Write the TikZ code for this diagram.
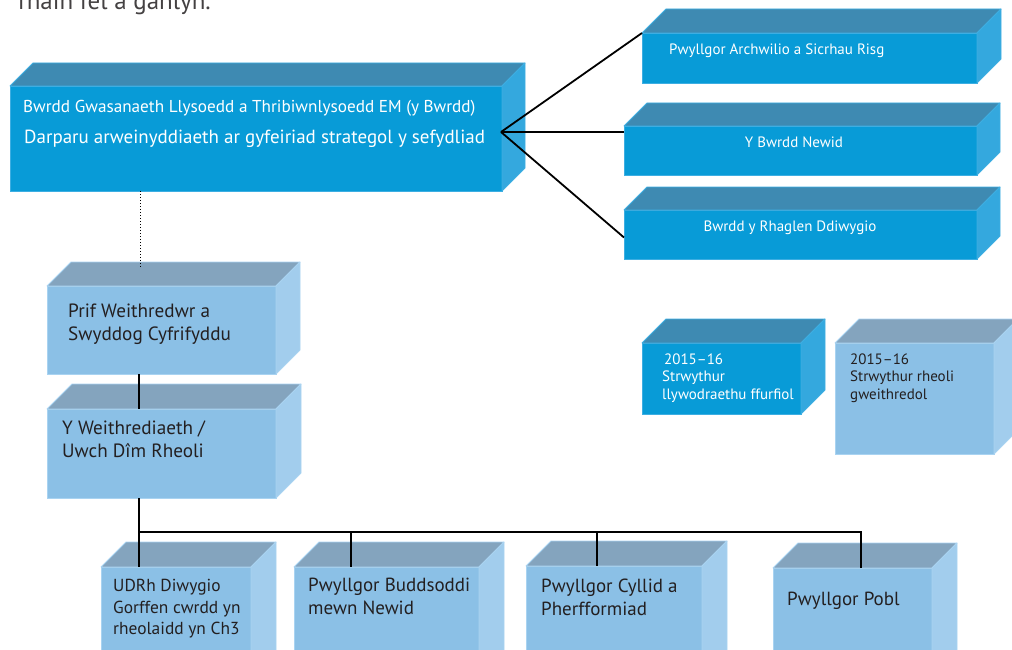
\documentclass[tikz,border=0pt]{standalone}
\usepackage{fontspec}
\setmainfont{PT Sans}
\definecolor{dkfront}{HTML}{089BD7}
\definecolor{dktop}{HTML}{3E8AB2}
\definecolor{dkside}{HTML}{34A8DE}
\definecolor{dkedge}{HTML}{3DAEE2}
\definecolor{ltfront}{HTML}{8BC0E6}
\definecolor{lttop}{HTML}{84A4BE}
\definecolor{ltside}{HTML}{A2CDED}
\definecolor{ltedge}{HTML}{A9D3F1}
\definecolor{ink}{HTML}{231F20}
\newcommand\cubebox[7]{%
  \node[#7front, anchor=north west, inner sep=0pt, outer sep=0pt,
        minimum width={(#4-#2)*1pt}, minimum height={(#5-#3)*1pt}] (#1) at (#2,#3) {};
  \filldraw[#7top] (#1.north west) -- ++(#6,-#6) -- ([shift={(#6,-#6)}]#1.north east) -- (#1.north east) -- cycle;
  \filldraw[#7side] (#1.north east) -- ++(#6,-#6) -- ([shift={(#6,-#6)}]#1.south east) -- (#1.south east) -- cycle;
}
\tikzset{
  dkfront/.style={fill=dkfront, draw=dkedge, line width=0.8pt},
  dktop/.style={fill=dktop, draw=dkedge, line width=0.8pt, line join=round},
  dkside/.style={fill=dkside, draw=dkedge, line width=0.8pt, line join=round},
  ltfront/.style={fill=ltfront, draw=ltedge, line width=0.8pt},
  lttop/.style={fill=lttop, draw=ltedge, line width=0.8pt, line join=round},
  ltside/.style={fill=ltside, draw=ltedge, line width=0.8pt, line join=round},
  wtxt/.style={text=white, inner sep=0pt, anchor=base west},
  btxt/.style={text=ink, inner sep=0pt, anchor=base west},
  conn/.style={draw=black, line width=1.8pt},
}
\begin{document}
\begin{tikzpicture}[x=1pt,y=-1pt]
\useasboundingbox (0,0) rectangle (1012,650);
% title fragment
\node[btxt, anchor=base east, font=\fontsize{25}{28}\selectfont, text=ink!85] (title) at (211,10) {rhain fel a ganlyn.};
% boxes
\cubebox{main}{10}{86}{502}{191}{23}{dk}
\cubebox{r1}{642}{33}{977}{83}{24}{dk}
\cubebox{r2}{624}{126}{977}{175}{23}{dk}
\cubebox{r3}{624}{210}{977}{259}{23}{dk}
\cubebox{prif}{47}{286}{276}{374}{24}{lt}
\cubebox{weith}{47}{409}{276}{498}{25}{lt}
\cubebox{m1}{642}{343}{801}{414}{24}{dk}
\cubebox{m2}{835}{343}{994}{454}{24}{lt}
\cubebox{b1}{101}{567}{251}{680}{25}{lt}
\cubebox{b2}{294}{567}{479}{680}{25}{lt}
\cubebox{b3}{526}{566}{702}{680}{25}{lt}
\cubebox{b4}{773}{568}{932}{680}{25}{lt}
% texts
\node[wtxt, font=\fontsize{17.2}{20}\selectfont] (tm1) at (23,113) {Bwrdd Gwasanaeth Llysoedd a Thribiwnlysoedd EM (y Bwrdd)};
\node[wtxt, font=\fontsize{19}{22}\selectfont] (tm2) at (24,143) {Darparu arweinyddiaeth ar gyfeiriad strategol y sefydliad};
\node[wtxt, font=\fontsize{15}{18}\selectfont] (tr1) at (669,55) {Pwyllgor Archwilio a Sicrhau Risg};
\node[wtxt, font=\fontsize{15}{18}\selectfont, anchor=base] (tr2) at (794,147) {Y Bwrdd Newid};
\node[wtxt, font=\fontsize{15}{18}\selectfont, anchor=base] (tr3) at (790,231) {Bwrdd y Rhaglen Ddiwygio};
\node[btxt, font=\fontsize{19.2}{22}\selectfont] (tp1) at (68,317) {Prif Weithredwr a};
\node[btxt, font=\fontsize{19.2}{22}\selectfont] (tp2) at (68,340) {Swyddog Cyfrifyddu};
\node[btxt, font=\fontsize{19.2}{22}\selectfont] (tw1) at (62,434) {Y Weithrediaeth /};
\node[btxt, font=\fontsize{19.2}{22}\selectfont] (tw2) at (62,457) {Uwch Dîm Rheoli};
\node[wtxt, font=\fontsize{15}{18}\selectfont] (tma) at (664,364) {2015–16};
\node[wtxt, font=\fontsize{15}{18}\selectfont] (tmb) at (662,381) {Strwythur};
\node[wtxt, font=\fontsize{15}{18}\selectfont] (tmc) at (662,399) {llywodraethu ffurfiol};
\node[btxt, font=\fontsize{15}{18}\selectfont] (tna) at (850,364) {2015–16};
\node[btxt, font=\fontsize{15}{18}\selectfont] (tnb) at (850,381) {Strwythur rheoli};
\node[btxt, font=\fontsize{15}{18}\selectfont] (tnc) at (850,399) {gweithredol};
\node[btxt, font=\fontsize{17.4}{20}\selectfont] (tb1a) at (113,591) {UDRh Diwygio};
\node[btxt, font=\fontsize{17.4}{20}\selectfont] (tb1b) at (113,613) {Gorffen cwrdd yn};
\node[btxt, font=\fontsize{17.4}{20}\selectfont] (tb1c) at (113,634) {rheolaidd yn Ch3};
\node[btxt, font=\fontsize{19}{22}\selectfont] (tb2a) at (308,591) {Pwyllgor Buddsoddi};
\node[btxt, font=\fontsize{19}{22}\selectfont] (tb2b) at (308,614) {mewn Newid};
\node[btxt, font=\fontsize{19}{22}\selectfont] (tb3a) at (541,592) {Pwyllgor Cyllid a};
\node[btxt, font=\fontsize{19}{22}\selectfont] (tb3b) at (541,615) {Pherfformiad};
\node[btxt, font=\fontsize{19}{22}\selectfont] (tb4a) at (787,605) {Pwyllgor Pobl};
% connectors
\coordinate (hub) at (501,132);
\draw[conn] (hub) -- (r1.north west);
\draw[conn] (hub) -- (hub -| r2.west);
\draw[conn] (hub) -- ([yshift=-3pt]r3.west);
\coordinate (dotend) at (140,268);
\draw[dotted, line width=1pt] (dotend |- main.south) -- (dotend);
\coordinate (spine) at (139,532);
\coordinate (d2) at (351,532);
\coordinate (d3) at (597,532);
\coordinate (busend) at (861,532);
\draw[conn] (spine |- prif.south) -- (spine |- weith.north);
\draw[conn] (spine |- weith.south) -- (spine) -- (busend) -- (busend |- b4.north);
\draw[conn] (spine) -- (spine |- b1.north);
\draw[conn] (d2) -- (d2 |- b2.north);
\draw[conn] (d3) -- (d3 |- b3.north);
\end{tikzpicture}
\end{document}
